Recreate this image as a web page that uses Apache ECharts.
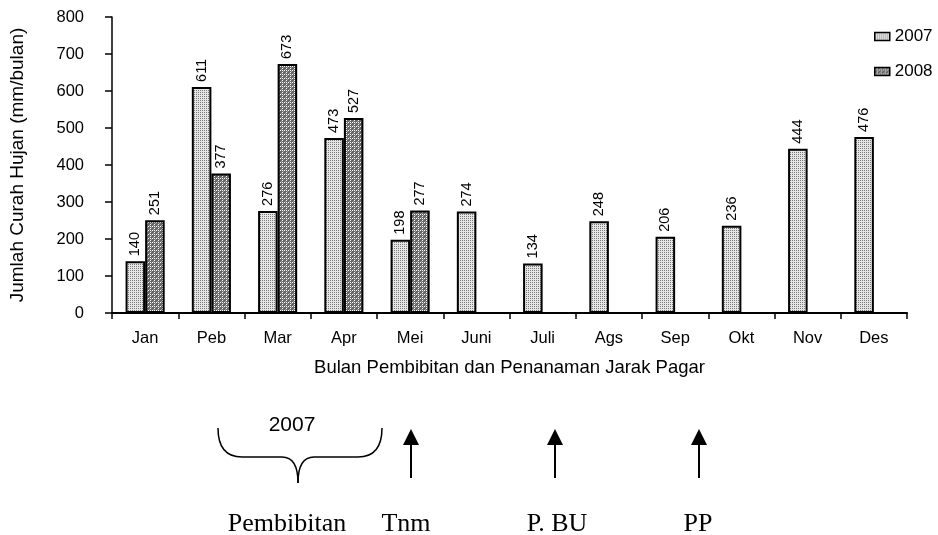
<!DOCTYPE html>
<html>
<head>
<meta charset="utf-8">
<script src="https://cdn.jsdelivr.net/npm/echarts@6/dist/echarts.min.js"></script>
<style>
  html, body { margin: 0; padding: 0; background: #fff; }
  #main { width: 938px; height: 535px; }
</style>
</head>
<body>
<div id="main"></div>
<script>
// data
const months = ['Jan', 'Peb', 'Mar', 'Apr', 'Mei', 'Juni', 'Juli', 'Ags', 'Sep', 'Okt', 'Nov', 'Des'];
const rain2007 = [140, 611, 276, 473, 198, 274, 134, 248, 206, 236, 444, 476];
const rain2008 = [251, 377, 673, 527, 277, null, null, null, null, null, null, null];
const yTicks = [0, 100, 200, 300, 400, 500, 600, 700, 800];

// fill patterns (small tiles, repeated)
function makeTile(size, draw) {
  const c = document.createElement('canvas');
  c.width = size;
  c.height = size;
  draw(c.getContext('2d'));
  return c;
}
const dots = makeTile(2, function (g) {
  g.fillStyle = '#e6e6e6';
  g.fillRect(0, 0, 2, 2);
  g.fillStyle = '#7a7a7a';
  g.fillRect(0, 0, 1, 1);
});
const cross = makeTile(4, function (g) {
  g.fillStyle = '#666';
  g.fillRect(0, 0, 4, 4);
  g.fillStyle = '#a0a0a0';
  g.fillRect(1, 1, 1, 1);
  g.fillRect(3, 3, 1, 1);
  g.fillStyle = '#ffffff';
  g.fillRect(2, 0, 1, 1);
  g.fillRect(0, 2, 1, 1);
  g.fillRect(2, 2, 1, 1);
});

const font = 'Liberation Sans';
const serif = 'Liberation Serif';

const chart = echarts.init(document.getElementById('main'));

function barLabel() {
  return {
    show: true,
    position: 'top',
    rotate: 90,
    align: 'left',
    verticalAlign: 'middle',
    distance: 5,
    color: '#000',
    fontSize: 14.5,
    fontFamily: font
  };
}

const ink = { stroke: '#000', lineWidth: 1.5, fill: null };

function arrow(x) {
  return [
    { type: 'line', shape: { x1: x, y1: 440, x2: x, y2: 478 }, style: { stroke: '#000', lineWidth: 2 } },
    { type: 'polygon', shape: { points: [[x, 429], [x - 8, 445], [x + 8, 445]] }, style: { fill: '#000' } }
  ];
}

function label(x, y, text, fam, size) {
  return {
    type: 'text', x: x, y: y,
    style: { text: text, font: size + 'px ' + fam, fill: '#000', align: 'center', verticalAlign: 'middle' }
  };
}

const option = {
  backgroundColor: '#fff',
  animation: false,
  textStyle: { fontFamily: font, color: '#000' },
  grid: { left: 111, right: 31, top: 17, bottom: 222 },
  legend: {
    orient: 'vertical',
    left: 869,
    top: 23,
    itemWidth: 15,
    itemHeight: 8,
    itemGap: 18,
    itemStyle: { borderWidth: 1.5, borderColor: '#000' },
    icon: 'rect',
    textStyle: { fontSize: 17, fontFamily: font, color: '#000' },
    data: ['2007', '2008']
  },
  xAxis: {
    type: 'category',
    data: months,
    name: 'Bulan Pembibitan dan Penanaman Jarak Pagar',
    nameLocation: 'middle',
    nameGap: 45,
    nameTextStyle: { fontSize: 18.5, fontFamily: font, color: '#000', verticalAlign: 'top' },
    axisLine: { lineStyle: { color: '#000', width: 2 } },
    axisTick: { show: true, length: 6, lineStyle: { color: '#000', width: 1.5 } },
    axisLabel: { fontSize: 16.5, color: '#000', margin: 17, fontFamily: font }
  },
  yAxis: {
    type: 'value',
    min: yTicks[0],
    max: yTicks[yTicks.length - 1],
    interval: 100,
    name: 'Jumlah Curah Hujan (mm/bulan)',
    nameLocation: 'middle',
    nameGap: 85,
    nameTextStyle: { fontSize: 19, fontFamily: font, color: '#000' },
    splitLine: { show: false },
    axisLine: { show: true, lineStyle: { color: '#000', width: 1.5 } },
    axisTick: { show: true, length: 7, lineStyle: { color: '#000', width: 1.5 } },
    axisLabel: { fontSize: 16.5, color: '#000', margin: 28, fontFamily: font }
  },
  series: [
    {
      name: '2007',
      type: 'bar',
      data: rain2007,
      barGap: '0%',
      barCategoryGap: '41%',
      itemStyle: { color: { image: dots, repeat: 'repeat' }, borderColor: '#000', borderWidth: 2 },
      label: barLabel()
    },
    {
      name: '2008',
      type: 'bar',
      data: rain2008,
      itemStyle: { color: { image: cross, repeat: 'repeat' }, borderColor: '#000', borderWidth: 2 },
      label: barLabel()
    }
  ],
  graphic: [
    // brace over the seeding months
    { type: 'bezierCurve', shape: { x1: 218, y1: 428, cpx1: 218, cpy1: 457, x2: 242, y2: 457 }, style: ink },
    { type: 'line', shape: { x1: 242, y1: 457, x2: 282, y2: 457 }, style: ink },
    { type: 'bezierCurve', shape: { x1: 282, y1: 457, cpx1: 298, cpy1: 457, x2: 298, y2: 483 }, style: ink },
    { type: 'bezierCurve', shape: { x1: 298, y1: 483, cpx1: 298, cpy1: 457, x2: 314, y2: 457 }, style: ink },
    { type: 'line', shape: { x1: 314, y1: 457, x2: 358, y2: 457 }, style: ink },
    { type: 'bezierCurve', shape: { x1: 358, y1: 457, cpx1: 382, cpy1: 457, x2: 382, y2: 428 }, style: ink },
    label(292, 425, '2007', font, 21)
  ].concat(arrow(411), arrow(555), arrow(699), [
    label(287, 524, 'Pembibitan', serif, 26),
    label(406, 524, 'Tnm', serif, 26),
    label(557, 524, 'P. BU', serif, 26),
    label(698, 524, 'PP', serif, 26)
  ])
};

chart.setOption(option);
</script>
</body>
</html>
